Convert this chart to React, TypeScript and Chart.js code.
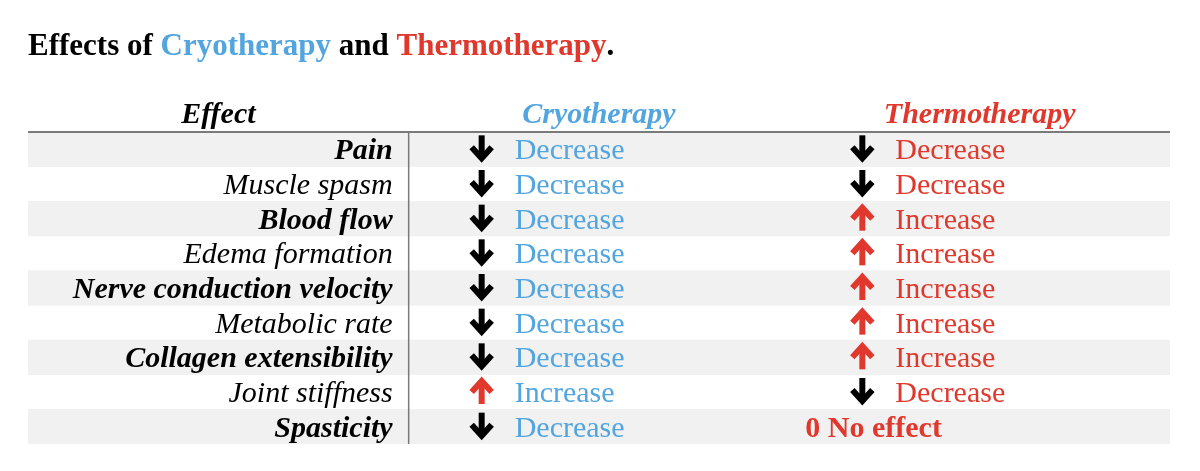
import { useEffect, useRef } from "react";
import { Chart, registerables } from "chart.js";

Chart.register(...registerables);

const effects = [
  "Pain",
  "Muscle spasm",
  "Blood flow",
  "Edema formation",
  "Nerve conduction velocity",
  "Metabolic rate",
  "Collagen extensibility",
  "Joint stiffness",
  "Spasticity",
];
const cryoEffects = [
  "Decrease", "Decrease", "Decrease", "Decrease", "Decrease",
  "Decrease", "Decrease", "Increase", "Decrease",
];
const thermoEffects = [
  "Decrease", "Decrease", "Increase", "Increase", "Increase",
  "Increase", "Increase", "Decrease", "No effect",
];
const columnHeaders = ["Effect", "Cryotherapy", "Thermotherapy"];
const columnCenters = [0.5, 1.5, 2.5];
const columnStarts = [0, 1, 2];

const BLUE = "#52a5de";
const RED = "#e0382c";
const BLACK = "#000000";
const STRIPE = "#f1f1f1";
const LINE = "#7a7a7a";
const SERIF = "'Liberation Serif', 'Times New Roman', serif";

function drawArrow(ctx: CanvasRenderingContext2D, cx: number, cy: number, up: boolean, color: string) {
  ctx.save();
  ctx.strokeStyle = color;
  ctx.fillStyle = color;
  ctx.lineWidth = 6;
  ctx.lineJoin = "miter";
  ctx.lineCap = "butt";
  const s = up ? -1 : 1;
  ctx.beginPath();
  ctx.moveTo(cx, cy - 13 * s);
  ctx.lineTo(cx, cy + 9 * s);
  ctx.stroke();
  ctx.beginPath();
  ctx.moveTo(cx - 10, cy - 1 * s);
  ctx.lineTo(cx, cy + 10 * s);
  ctx.lineTo(cx + 10, cy - 1 * s);
  ctx.stroke();
  ctx.restore();
}

const tablePlugin = {
  id: "tableText",
  afterDatasetsDraw(chart: any) {
    const ctx: CanvasRenderingContext2D = chart.ctx;
    const x = chart.scales.x;
    const y = chart.scales.y;
    const area = chart.chartArea;
    ctx.save();
    // header line
    ctx.strokeStyle = LINE;
    ctx.lineWidth = 2;
    ctx.beginPath();
    ctx.moveTo(area.left, area.top);
    ctx.lineTo(area.right, area.top);
    ctx.stroke();
    // divider
    ctx.lineWidth = 1.5;
    ctx.beginPath();
    ctx.moveTo(x.getPixelForValue(1), area.top);
    ctx.lineTo(x.getPixelForValue(1), area.bottom);
    ctx.stroke();

    // title
    ctx.textBaseline = "alphabetic";
    ctx.textAlign = "left";
    ctx.font = `bold 31px ${SERIF}`;
    const parts: [string, string][] = [
      ["Effects of ", BLACK],
      [columnHeaders[1], BLUE],
      [" and ", BLACK],
      [columnHeaders[2], RED],
      [".", BLACK],
    ];
    let tx = area.left;
    for (const [t, c] of parts) {
      ctx.fillStyle = c;
      ctx.fillText(t, tx, 55);
      tx += ctx.measureText(t).width;
    }

    // headers
    ctx.font = `italic bold 30px ${SERIF}`;
    ctx.textAlign = "center";
    const headerColors = [BLACK, BLUE, RED];
    columnHeaders.forEach((h, i) => {
      ctx.fillStyle = headerColors[i];
      ctx.fillText(h, x.getPixelForValue(columnCenters[i]), area.top - 9);
    });

    // rows
    effects.forEach((label, i) => {
      const cy = y.getPixelForValue(i);
      const base = cy + 10;
      ctx.textAlign = "right";
      ctx.fillStyle = BLACK;
      ctx.font = `italic ${i % 2 === 0 ? "bold " : ""}30px ${SERIF}`;
      ctx.fillText(label, x.getPixelForValue(1) - 16, base);

      const cols: [string[], string][] = [
        [cryoEffects, BLUE],
        [thermoEffects, RED],
      ];
      cols.forEach(([vals, color], j) => {
        const v = vals[i];
        const start = x.getPixelForValue(columnStarts[j + 1]);
        ctx.textAlign = "left";
        ctx.fillStyle = color;
        if (v === "No effect") {
          ctx.font = `bold 30px ${SERIF}`;
          ctx.fillText("0 " + v, start + 16, base);
        } else {
          const up = v === "Increase";
          drawArrow(ctx, start + 73, cy - 1, up, up ? RED : BLACK);
          ctx.fillStyle = color;
          ctx.font = `30px ${SERIF}`;
          ctx.fillText(v, start + 106, base);
        }
      });
    });
    ctx.restore();
  },
};

export default function App() {
  const ref = useRef<HTMLCanvasElement>(null);
  useEffect(() => {
    document.body.style.margin = "0";
    if (!ref.current) return;
    const chart = new Chart(ref.current, {
      type: "bar",
      data: {
        labels: effects,
        datasets: [
          {
            data: effects.map((_, i) => (i % 2 === 0 ? [0, 3] : null)) as any,
            backgroundColor: STRIPE,
            borderWidth: 0,
            barPercentage: 1,
            categoryPercentage: 1,
          },
        ],
      },
      options: {
        indexAxis: "y",
        responsive: false,
        animation: false,
        devicePixelRatio: 1,
        layout: { padding: { top: 132, bottom: 27, left: 28, right: 30 } },
        scales: {
          x: { type: "linear", min: 0, max: 3, display: false },
          y: { type: "category", display: false, offset: true },
        },
        plugins: {
          legend: { display: false },
          tooltip: { enabled: false },
          title: { display: false },
        },
      },
      plugins: [tablePlugin],
    });
    return () => chart.destroy();
  }, []);
  return (
    <div style={{ width: 1200, height: 471, background: "#fff" }}>
      <canvas ref={ref} width={1200} height={471} />
    </div>
  );
}
